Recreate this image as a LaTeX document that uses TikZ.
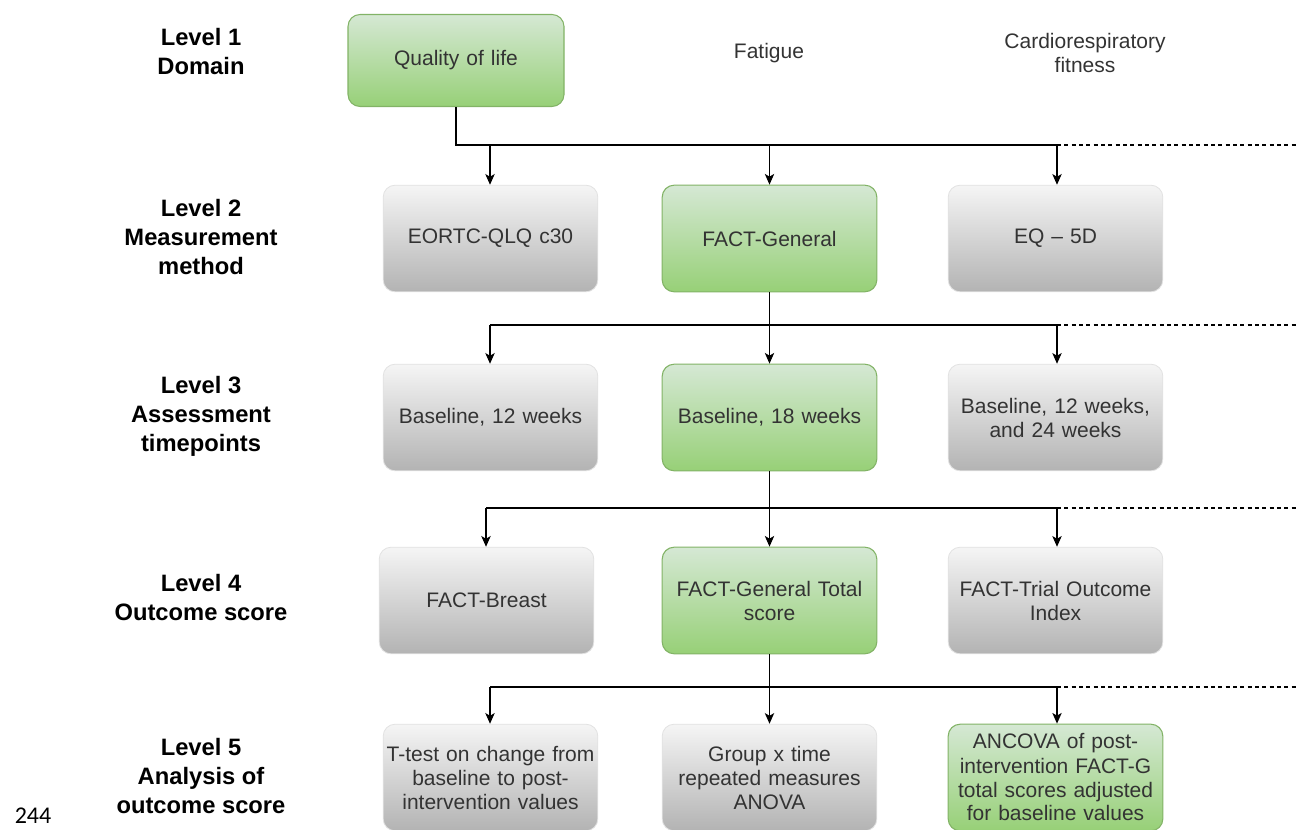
\documentclass[tikz,border=0pt]{standalone}
\usepackage{fontspec}
\setmainfont{Liberation Sans}
\newfontfamily\pagefont{Carlito}
\usetikzlibrary{arrows.meta}
\definecolor{gtop}{HTML}{D5E8D4}
\definecolor{gbot}{HTML}{97D077}
\definecolor{gline}{HTML}{82B366}
\definecolor{ytop}{HTML}{F5F5F5}
\definecolor{ybot}{HTML}{B3B3B3}
\definecolor{yline}{HTML}{E2E2E2}
\definecolor{txt}{HTML}{333333}
\tikzset{
  box/.style={rounded corners=9pt, minimum width=161pt, minimum height=80pt,
    text width=156pt, align=center, text=txt, inner sep=0pt,
    font=\fontsize{15.75}{18}\selectfont},
  greenbox/.style={box, top color=gtop, bottom color=gbot, draw=gline, line width=0.8pt},
  graybox/.style={box, top color=ytop, bottom color=ybot, draw=yline, line width=0.6pt},
  lvl/.style={align=center, font=\bfseries\fontsize{17.8}{21.75}\selectfont, text=black},
  plain/.style={align=center, text=txt, font=\fontsize{15.75}{18}\selectfont},
  conn/.style={line width=1pt, draw=black},
  arr/.style={conn, -{Stealth[length=8pt, width=7pt, inset=2pt]}},
  dash line/.style={line width=1pt, dash pattern=on 3pt off 2.5pt}
}
\begin{document}
\begin{tikzpicture}[x=0.75pt, y=-0.75pt]
\useasboundingbox (0,0) rectangle (1299,830);

% level labels
\node[lvl] (l1) at (201,52) {Level 1\\Domain};
\node[lvl] (l2) at (201,237) {Level 2\\Measurement\\method};
\node[lvl] (l3) at (201,416) {Level 3\\Assessment\\timepoints};
\node[lvl] (l4) at (201,598) {Level 4\\Outcome score};
\node[lvl] (l5) at (201,776) {Level 5\\Analysis of\\outcome score};
\node[font=\pagefont\fontsize{18}{20}\selectfont, text=black, inner sep=1pt] (pg) at (33,816) {244};

% level 1
\node[greenbox, minimum width=162pt, minimum height=69pt] (qol) at (456,60.5) {Quality of life};
\node[plain] (fat) at (769,53) {Fatigue};
\node[plain] (cardio) at (1085,53) {Cardiorespiratory\\fitness};

% level 2
\node[graybox] (eortc) at (490.5,238.5) {EORTC-QLQ c30};
\node[greenbox] (factg) at (769.5,238.5) {FACT-General};
\node[graybox] (eq) at (1055.5,238.5) {EQ -- 5D};

% level 3
\node[graybox] (b12) at (490.5,417.5) {Baseline, 12 weeks};
\node[greenbox] (b18) at (769.5,417.5) {Baseline, 18 weeks};
\node[graybox] (b24) at (1055.5,417.5) {Baseline, 12 weeks,\\and 24 weeks};

% level 4
\node[graybox] (breast) at (486.5,600.5) {FACT-Breast};
\node[greenbox] (total) at (769.5,600.5) {FACT-General Total\\score};
\node[graybox] (toi) at (1055.5,600.5) {FACT-Trial Outcome\\Index};

% level 5
\node[graybox] (ttest) at (490.5,777.5) {T-test on change from\\baseline to post-\\intervention values};
\node[graybox] (anova) at (769.5,777.5) {Group x time\\repeated measures\\ANOVA};
\node[greenbox] (ancova) at (1055.5,777.5) {ANCOVA of post-\\intervention FACT-G\\total scores adjusted\\for baseline values};

% bus coordinates
\coordinate (bus1) at (1057,145);
\coordinate (end1) at (1299,145);
\coordinate (bus2L) at (490,325);
\coordinate (bus2R) at (1057,325);
\coordinate (end2) at (1299,325);
\coordinate (bus3L) at (486,508);
\coordinate (bus3R) at (1057,508);
\coordinate (end3) at (1299,508);
\coordinate (bus4L) at (490,687);
\coordinate (bus4R) at (1057,687);
\coordinate (end4) at (1299,687);

% connectors 1 -> 2
\draw[conn] (qol.south) |- (bus1);
\draw[dash line] (bus1) -- (end1);
\draw[arr] (490,145) -- (eortc.north -| 490,0);
\draw[arr] (factg.north |- bus1) -- (factg.north);
\draw[arr] (bus1) -- (eq.north -| bus1);

% connectors 2 -> 3
\draw[conn] (factg.south) -- (factg.south |- bus2L);
\draw[conn] (bus2L) -- (bus2R);
\draw[dash line] (bus2R) -- (end2);
\draw[arr] (bus2L) -- (b12.north -| bus2L);
\draw[arr] (factg.south |- bus2L) -- (b18.north);
\draw[arr] (bus2R) -- (b24.north -| bus2R);

% connectors 3 -> 4
\draw[conn] (b18.south) -- (b18.south |- bus3L);
\draw[conn] (bus3L) -- (bus3R);
\draw[dash line] (bus3R) -- (end3);
\draw[arr] (bus3L) -- (breast.north -| bus3L);
\draw[arr] (b18.south |- bus3L) -- (total.north);
\draw[arr] (bus3R) -- (toi.north -| bus3R);

% connectors 4 -> 5
\draw[conn] (total.south) -- (total.south |- bus4L);
\draw[conn] (bus4L) -- (bus4R);
\draw[dash line] (bus4R) -- (end4);
\draw[arr] (bus4L) -- (ttest.north -| bus4L);
\draw[arr] (total.south |- bus4L) -- (anova.north);
\draw[arr] (bus4R) -- (ancova.north -| bus4R);
\end{tikzpicture}
\end{document}
